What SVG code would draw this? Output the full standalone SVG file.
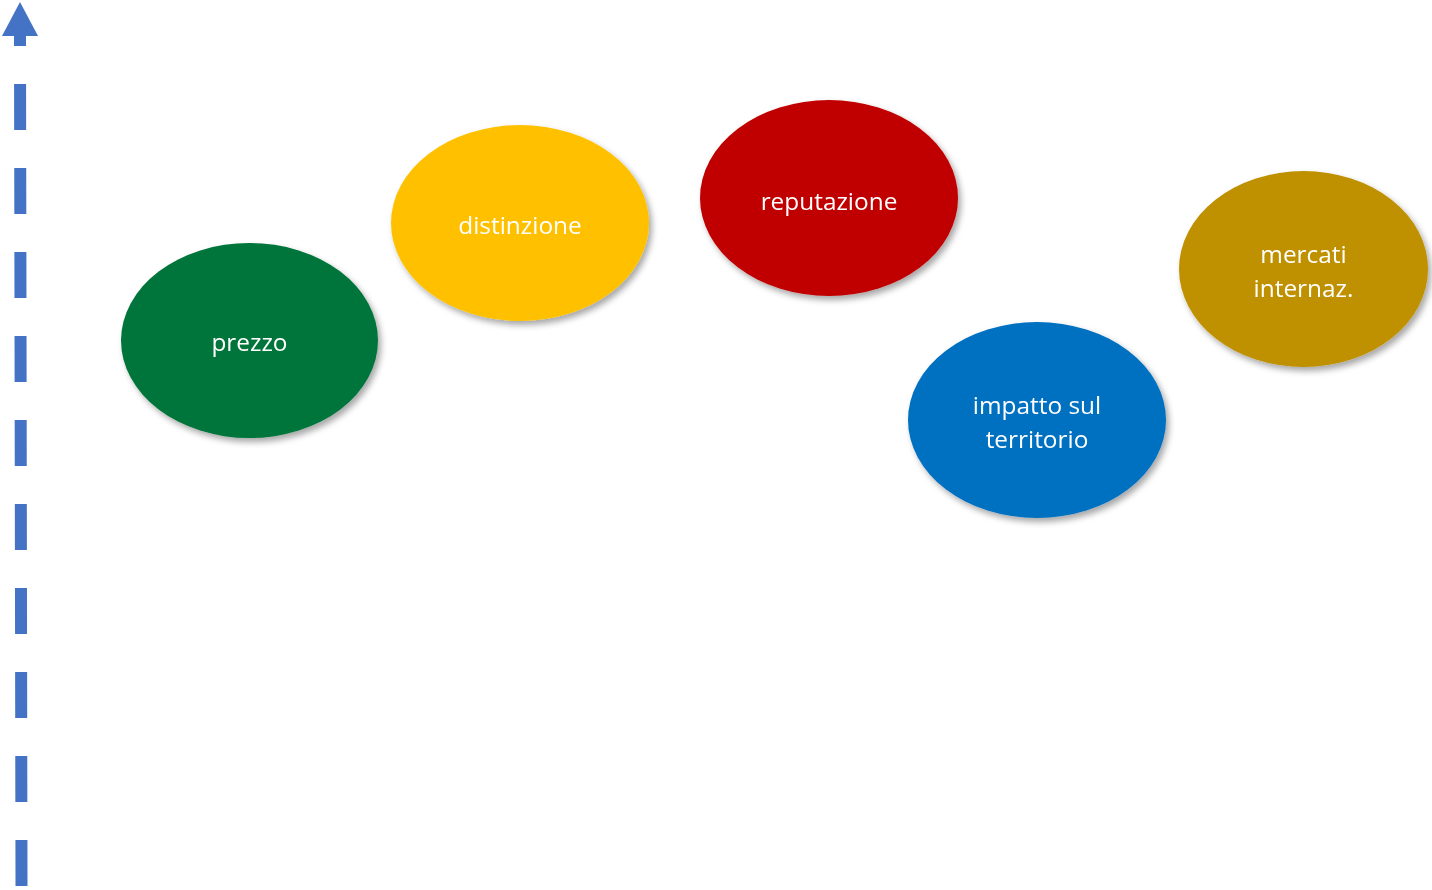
<svg xmlns="http://www.w3.org/2000/svg" width="1432" height="890" viewBox="0 0 1432 890">
<style>
.lbl{font-family:"Open Sans","Liberation Sans",sans-serif;font-size:24.4px;fill:#fff;text-anchor:middle;dominant-baseline:central}
.node{filter:url(#sh)}
</style>
<defs>
<filter id="sh" x="-20%" y="-20%" width="150%" height="150%">
<feDropShadow dx="3" dy="4" stdDeviation="3" flood-color="#000" flood-opacity="0.35"/>
</filter>
</defs>
<g id="connectors">
<line x1="21.5" y1="886" x2="20" y2="36" stroke="#4472C4" stroke-width="12" stroke-dasharray="46 38"/>
<polygon points="20,2 38,36 2,36" fill="#4472C4"/>
</g>
<g id="prezzo" class="node">
<ellipse cx="249.5" cy="340.5" rx="128.5" ry="97.5" fill="#03743B"/>
<text class="lbl" x="249.5" y="341">prezzo</text>
</g>
<g id="distinzione" class="node">
<ellipse cx="520" cy="223" rx="129" ry="98" fill="#FFC000"/>
<text class="lbl" x="520" y="224">distinzione</text>
</g>
<g id="reputazione" class="node">
<ellipse cx="829" cy="198" rx="129" ry="98" fill="#C00000"/>
<text class="lbl" x="829" y="200">reputazione</text>
</g>
<g id="impatto" class="node">
<ellipse cx="1037" cy="420" rx="129" ry="98" fill="#0070C0"/>
<text class="lbl" x="1037" y="404">impatto sul</text>
<text class="lbl" x="1037" y="438">territorio</text>
</g>
<g id="mercati" class="node">
<ellipse cx="1303.5" cy="269" rx="124.5" ry="98" fill="#BF9000"/>
<text class="lbl" x="1303.5" y="253">mercati</text>
<text class="lbl" x="1303.5" y="287">internaz.</text>
</g>
</svg>
